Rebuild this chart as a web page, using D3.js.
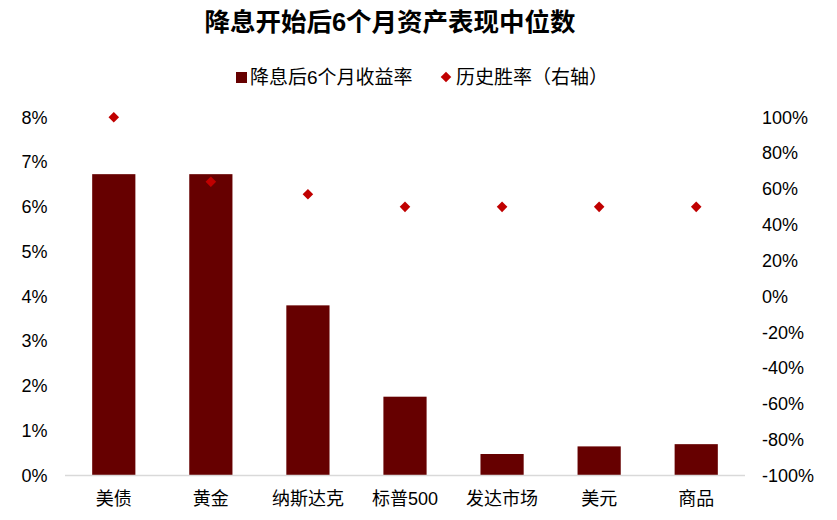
<!DOCTYPE html>
<html>
<head>
<meta charset="utf-8">
<script src="https://cdn.jsdelivr.net/npm/d3@7"></script>
<style>
  body { margin: 0; background: #fff; }
  svg text { font-family: "Liberation Sans", Arial, "Noto Sans CJK SC", sans-serif; fill: #000; }
</style>
</head>
<body>
<div id="chart"></div>
<script>
// 数据
const categories = ["美债", "黄金", "纳斯达克", "标普500", "发达市场", "美元", "商品"];
const returns6m = [6.73, 6.73, 3.80, 1.76, 0.48, 0.65, 0.70];   // %
const winRate = [100, 64, 57, 50, 50, 50, 50];                  // %
const leftTicks = [0, 1, 2, 3, 4, 5, 6, 7, 8];
const rightTicks = [-100, -80, -60, -40, -20, 0, 20, 40, 60, 80, 100];

const W = 837, H = 520;
const svg = d3.select("#chart").append("svg")
    .attr("width", W)
    .attr("height", H);

// 绘图区
const x0 = 65, x1 = 745, yTop = 117.3, yBase = 475.5;

const x = d3.scaleBand().domain(categories).range([x0, x1]).paddingInner(0.555).paddingOuter(0.28);
const y = d3.scaleLinear().domain([0, 8]).range([yBase, yTop]);
const y2 = d3.scaleLinear().domain([-100, 100]).range([yBase, yTop]);

// 菱形标记（旋转的正方形）
const diamond = d3.symbol().type(d3.symbolSquare).size(56);

// 标题
svg.append("text")
    .attr("x", 390).attr("y", 31)
    .attr("text-anchor", "middle")
    .attr("font-size", 25.5)
    .attr("font-weight", "bold")
    .text("降息开始后6个月资产表现中位数");

// 图例
const legend = svg.append("g");
legend.append("rect").attr("x", 236).attr("y", 72).attr("width", 11).attr("height", 11).attr("fill", "#660000");
legend.append("text").attr("x", 250).attr("y", 84).attr("font-size", 19).text("降息后6个月收益率");
legend.append("path")
    .attr("d", diamond())
    .attr("transform", "translate(446,77) rotate(45)")
    .attr("fill", "#c00000");
legend.append("text").attr("x", 456).attr("y", 84).attr("font-size", 19).text("历史胜率（右轴）");

// 左轴
svg.append("g")
    .selectAll("text")
    .data(leftTicks)
    .enter()
    .append("text")
    .attr("x", 47.5)
    .attr("y", d => y(d))
    .attr("dy", "0.35em")
    .attr("text-anchor", "end")
    .attr("font-size", 18)
    .text(d => d + "%");

// 右轴
svg.append("g")
    .selectAll("text")
    .data(rightTicks)
    .enter()
    .append("text")
    .attr("x", 762)
    .attr("y", d => y2(d))
    .attr("dy", "0.35em")
    .attr("text-anchor", "start")
    .attr("font-size", 18)
    .text(d => d + "%");

// 柱子
svg.append("g")
    .selectAll("rect")
    .data(returns6m)
    .enter()
    .append("rect")
    .attr("x", (d, i) => x(categories[i]))
    .attr("y", d => y(d))
    .attr("width", x.bandwidth())
    .attr("height", d => y(0) - y(d))
    .attr("fill", "#660000");

// 横轴线
svg.append("line")
    .attr("x1", x0).attr("x2", x1)
    .attr("y1", yBase).attr("y2", yBase)
    .attr("stroke", "#d9d9d9")
    .attr("stroke-width", 1.5);

// 分类标签
svg.append("g")
    .selectAll("text")
    .data(categories)
    .enter()
    .append("text")
    .attr("x", d => x(d) + x.bandwidth() / 2)
    .attr("y", 499)
    .attr("dy", "0.35em")
    .attr("text-anchor", "middle")
    .attr("font-size", 18)
    .text(d => d);

// 胜率散点
svg.append("g")
    .selectAll("path")
    .data(winRate)
    .enter()
    .append("path")
    .attr("d", diamond())
    .attr("transform", (d, i) => `translate(${x(categories[i]) + x.bandwidth() / 2},${y2(d)}) rotate(45)`)
    .attr("fill", "#c00000");
</script>
</body>
</html>
